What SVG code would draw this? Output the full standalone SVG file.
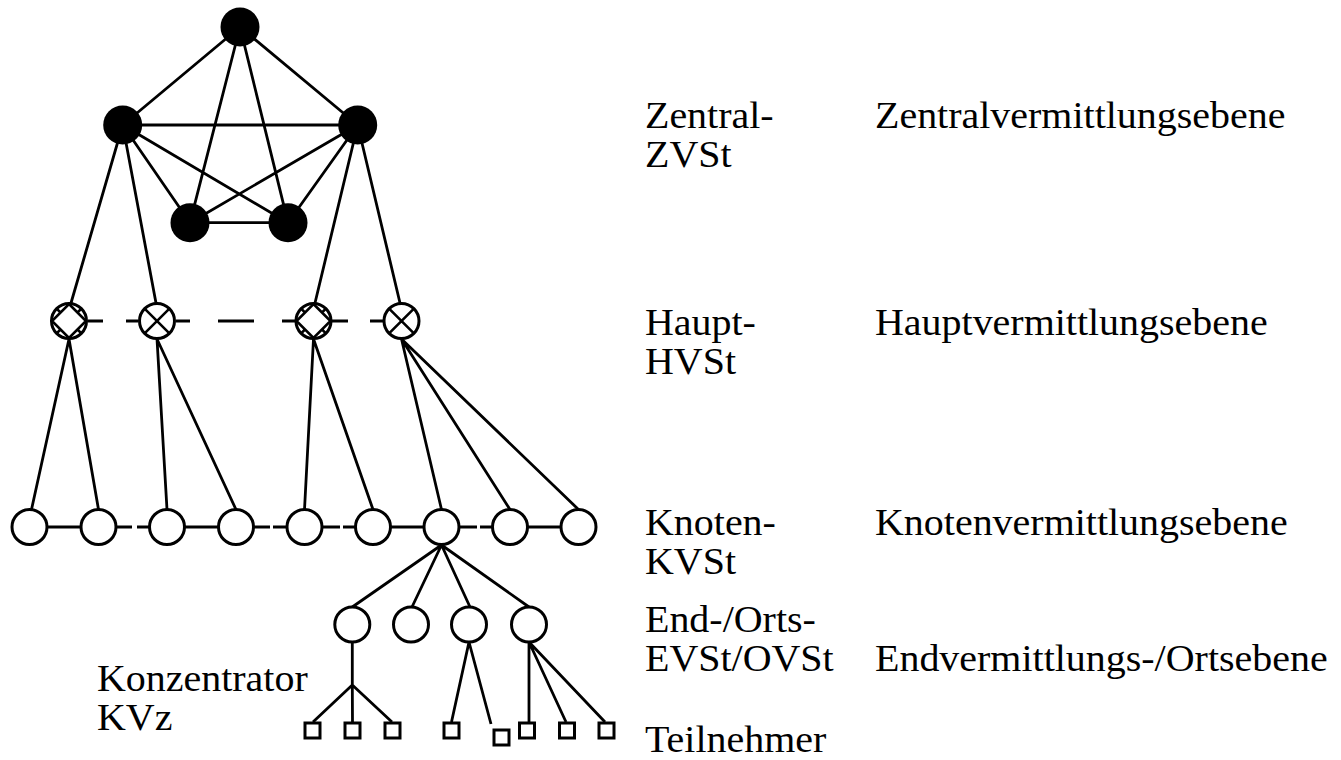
<svg xmlns="http://www.w3.org/2000/svg" width="1341" height="760" viewBox="0 0 1341 760">
  <style>
    .ln { stroke: #000; stroke-width: 2.8; fill: none; stroke-linecap: butt; }
    .zv { fill: #000; stroke: none; }
    .nd { fill: #fff; stroke: #000; stroke-width: 3; }
    .sq { fill: #fff; stroke: #000; stroke-width: 3; }
    .mk { stroke: #000; stroke-width: 2.6; fill: none; }
  </style>
  <defs>
    <!-- exchange symbol: circle with a cross -->
    <g id="hv-x">
      <circle r="17.5" class="nd"/>
      <path class="mk" d="M-12.4,-12.4 L12.4,12.4 M12.4,-12.4 L-12.4,12.4"/>
    </g>
    <!-- exchange symbol: circle with cross ticks and inner diamond -->
    <g id="hv-d">
      <circle r="17.5" class="nd"/>
      <path class="mk" d="M0,-17 L17,0 L0,17 L-17,0 Z M-12.4,-12.4 L-8.5,-8.5 M12.4,-12.4 L8.5,-8.5 M12.4,12.4 L8.5,8.5 M-12.4,12.4 L-8.5,8.5"/>
    </g>
  </defs>

  <g id="connectors">
    <!-- full mesh between the central exchanges -->
    <path class="ln" d="M240,27 L122.7,125 M240,27 L357.7,125 M240,27 L190,222.7 M240,27 L288,222.7
                        M122.7,125 L357.7,125 M122.7,125 L190,222.7 M122.7,125 L288,222.7
                        M357.7,125 L190,222.7 M357.7,125 L288,222.7 M190,222.7 L288,222.7"/>
    <!-- central to main exchanges -->
    <path class="ln" d="M122.7,125 L71,303 M122.7,125 L156,303 M357.7,125 L315,303 M357.7,125 L400,303"/>
    <!-- dashed cross links between main exchanges -->
    <path class="ln" d="M88,321 H103 M126,321 H138 M176,321 H190 M218,321 H254 M282,321 H296 M332,321 H348 M370,321 H384"/>
    <!-- main to node exchanges -->
    <path class="ln" d="M69,339 L31.5,509.5 M69,339 L98.5,509.5
                        M157,339 L167,509.5 M157,339 L236,509.5
                        M313.5,339 L304.5,509.5 M313.5,339 L373,509.5
                        M401.5,339 L441.5,509.5 M401.5,339 L510,509.5 M401.5,339 L578.5,509.5"/>
    <!-- links between node exchanges -->
    <path class="ln" d="M47,527 H81 M116,527 H132 M137,527 H149.5 M184.5,527 H218.5 M253.5,527 H270 M273,527 H287
                        M322,527 H340 M343,527 H355.5 M390.5,527 H424 M459,527 H477 M480,527 H492.5 M527.5,527 H561"/>
    <!-- node exchange to local exchanges -->
    <path class="ln" d="M441.5,545 L352.3,607 M441.5,545 L412,607 M441.5,545 L470,607 M441.5,545 L529,607"/>
    <!-- concentrator branch -->
    <path class="ln" d="M352.3,642 L352.3,685 M352.3,685 L313,722 M352.3,685 L352.5,722 M352.3,685 L392,722"/>
    <!-- local exchanges to subscribers -->
    <path class="ln" d="M469,642 L451.5,722 M469,642 L491,724"/>
    <path class="ln" d="M529,642 L529,722 M529,642 L566,722 M529,642 L605,722"/>
  </g>

  <g id="zvst">
    <circle id="zv-top" class="zv" cx="240" cy="27" r="19.5"/>
    <circle id="zv-left" class="zv" cx="122.7" cy="125" r="19.5"/>
    <circle id="zv-right" class="zv" cx="357.7" cy="125" r="19.5"/>
    <circle id="zv-bl" class="zv" cx="190" cy="222.7" r="19.5"/>
    <circle id="zv-br" class="zv" cx="288" cy="222.7" r="19.5"/>
  </g>

  <g id="hvst">
    <use id="hv1" href="#hv-d" x="69" y="321"/>
    <use id="hv2" href="#hv-x" x="157" y="321"/>
    <use id="hv3" href="#hv-d" x="313.5" y="321"/>
    <use id="hv4" href="#hv-x" x="401.5" y="321"/>
  </g>

  <g id="kvst">
    <circle id="kv1" class="nd" cx="29.5" cy="527" r="17.5"/>
    <circle id="kv2" class="nd" cx="98.5" cy="527" r="17.5"/>
    <circle id="kv3" class="nd" cx="167" cy="527" r="17.5"/>
    <circle id="kv4" class="nd" cx="236" cy="527" r="17.5"/>
    <circle id="kv5" class="nd" cx="304.5" cy="527" r="17.5"/>
    <circle id="kv6" class="nd" cx="373" cy="527" r="17.5"/>
    <circle id="kv7" class="nd" cx="441.5" cy="527" r="17.5"/>
    <circle id="kv8" class="nd" cx="510" cy="527" r="17.5"/>
    <circle id="kv9" class="nd" cx="578.5" cy="527" r="17.5"/>
  </g>

  <g id="evst">
    <circle id="ev1" class="nd" cx="352.3" cy="624.5" r="17.5"/>
    <circle id="ev2" class="nd" cx="411" cy="624.5" r="17.5"/>
    <circle id="ev3" class="nd" cx="469" cy="624.5" r="17.5"/>
    <circle id="ev4" class="nd" cx="529" cy="624.5" r="17.5"/>
  </g>

  <g id="teilnehmer">
    <rect id="tn1" class="sq" x="305" y="723" width="15" height="15"/>
    <rect id="tn2" class="sq" x="345" y="723" width="15" height="15"/>
    <rect id="tn3" class="sq" x="385" y="723" width="15" height="15"/>
    <rect id="tn4" class="sq" x="444" y="723" width="15" height="15"/>
    <rect id="tn5" class="sq" x="494" y="730" width="15" height="15"/>
    <rect id="tn6" class="sq" x="519.5" y="723" width="15" height="15"/>
    <rect id="tn7" class="sq" x="559.5" y="723" width="15" height="15"/>
    <rect id="tn8" class="sq" x="599" y="723" width="15" height="15"/>
  </g>

  <!-- level labels, slightly widened serif type -->
  <g id="labels" transform="scale(1.08,1)" font-family="'Liberation Serif', 'DejaVu Serif', serif" font-size="37" fill="#000">
    <text x="597.2" y="128">Zentral-</text>
    <text x="597.2" y="167">ZVSt</text>
    <text x="810.2" y="128">Zentralvermittlungsebene</text>
    <text x="597.2" y="335">Haupt-</text>
    <text x="597.2" y="374">HVSt</text>
    <text x="810.2" y="335">Hauptvermittlungsebene</text>
    <text x="597.2" y="535">Knoten-</text>
    <text x="597.2" y="574">KVSt</text>
    <text x="810.2" y="535">Knotenvermittlungsebene</text>
    <text x="597.2" y="632">End-/Orts-</text>
    <text x="597.2" y="671">EVSt/OVSt</text>
    <text x="810.2" y="671">Endvermittlungs-/Ortsebene</text>
    <text x="597.2" y="752">Teilnehmer</text>
    <text x="89.8" y="691">Konzentrator</text>
    <text x="89.8" y="730">KVz</text>
  </g>
</svg>
